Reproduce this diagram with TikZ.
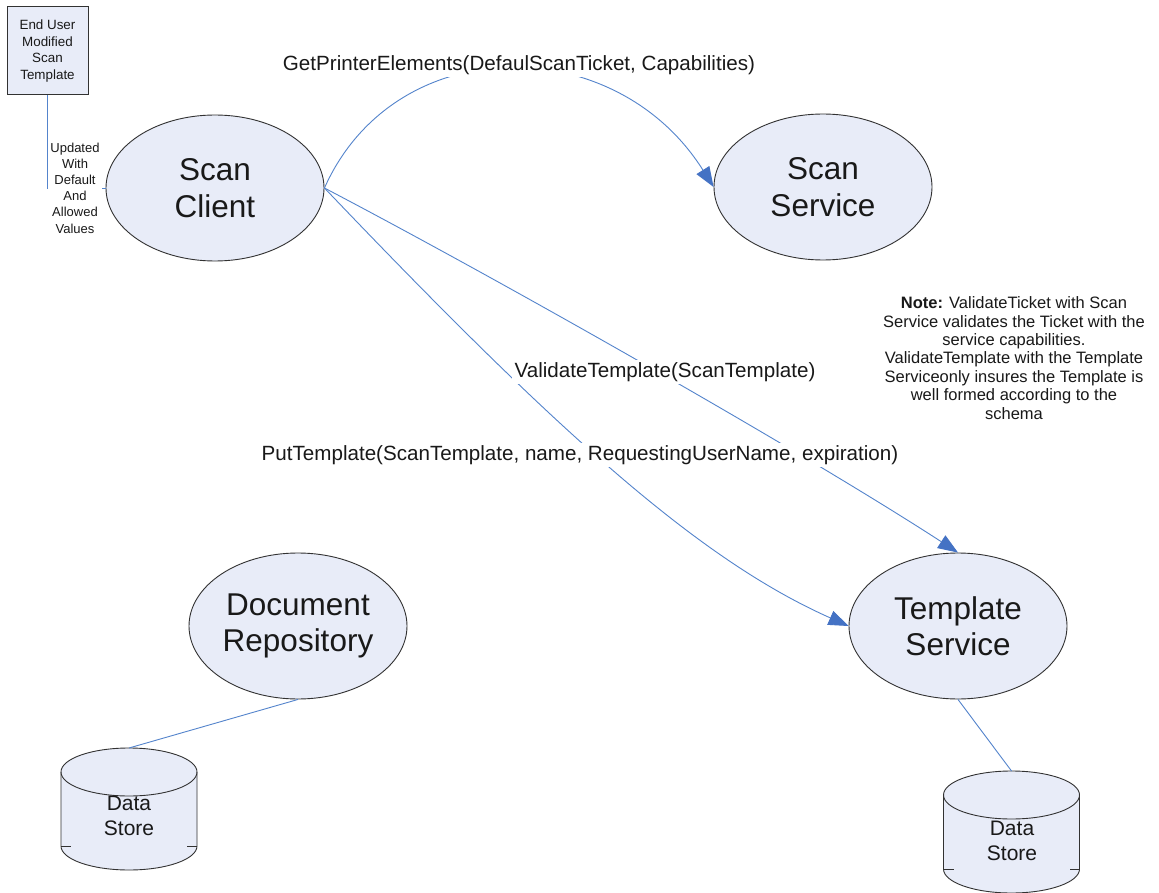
\documentclass[tikz,border=0pt]{standalone}
\usepackage{fontspec}
\setmainfont{Liberation Sans}
\usetikzlibrary{shapes.geometric,arrows.meta}
\definecolor{fillb}{RGB}{232,236,248}
\definecolor{lineb}{RGB}{84,132,204}
\definecolor{headb}{RGB}{68,114,196}
\definecolor{edgeg}{RGB}{50,50,50}
\definecolor{txt}{RGB}{25,25,25}
\tikzset{
  proc/.style={ellipse, draw=edgeg, line width=0.9pt, fill=fillb, minimum width=218pt, minimum height=146pt, inner sep=0pt, align=center, text=txt, font=\fontsize{31.5}{36.5}\selectfont},
  conn/.style={draw=lineb, line width=0.9pt},
  arr/.style={conn, -{Triangle[length=20pt,width=15pt,fill=headb,color=headb]}},
  lbl/.style={fill=white, inner xsep=3pt, inner ysep=2.5pt, text=txt, font=\fontsize{20.6}{24}\selectfont},
  dsline/.style={draw=edgeg, line width=0.9pt},
  dstext/.style={align=center, text=txt, font=\fontsize{21}{25}\selectfont},
}
\begin{document}
\begin{tikzpicture}[x=1pt,y=-1pt]
\useasboundingbox (0,0) rectangle (1159,893);
\fill[white] (0,0) rectangle (1159,893);

% top-left template box
\node[draw=edgeg, line width=1pt, fill=fillb, minimum width=81pt, minimum height=88pt, inner sep=0pt, align=center, text=txt, font=\fontsize{13.4}{16.4}\selectfont] (eu) at (47.5,51) {End User\\Modified\\Scan\\Template};

% ellipses
\node[proc] (sc) at (215,188) {Scan\\Client};
\node[proc] (ss) at (823,187) {Scan\\Service};
\node[proc] (dr) at (298,626) {Document\\Repository};
\node[proc] (ts) at (958,626) {Template\\Service};

% data stores
\foreach \cx/\cy/\nm in {129/772/dsa, 1011.5/795/dsb}{
  \fill[fillb] (\cx-68,\cy) -- (\cx-68,\cy+74) arc[start angle=180,end angle=360,x radius=68pt,y radius=24pt] -- (\cx+68,\cy) arc[start angle=0,end angle=180,x radius=68pt,y radius=24pt] -- cycle;
  \draw[dsline] (\cx-68,\cy) -- (\cx-68,\cy+74) arc[start angle=180,end angle=360,x radius=68pt,y radius=24pt] -- (\cx+68,\cy);
  \draw[dsline] (\cx,\cy) ellipse[x radius=68pt,y radius=24pt];
  \draw[dsline] (\cx-68,\cy+74) -- (\cx-58,\cy+74);
  \draw[dsline] (\cx+68,\cy+74) -- (\cx+58,\cy+74);
  \coordinate (\nm top) at (\cx,\cy-24);
}
\node[dstext] (dsatext) at (129,816) {Data\\Store};
\node[dstext] (dsbtext) at (1012,841) {Data\\Store};

% connectors
\draw[conn] (eu.south) |- (sc.west);
\node[fill=white, inner xsep=2pt, inner ysep=1pt, align=center, text=txt, font=\fontsize{13}{16.2}\selectfont] (updlbl) at (75,188) {Updated\\With\\Default\\And\\Allowed\\Values};

\draw[arr] (sc.east) .. controls (395,30) and (615,30) .. (ss.west);
\draw[arr] (sc.east) .. controls (500,280) and (800,450) .. (ts.north);
\draw[arr] (sc.east) .. controls (560,435) and (700,560) .. (ts.west);
\draw[conn] (dr.south) -- (dsatop);
\draw[conn] (ts.south) -- (dsbtop);

\node[lbl] (getlbl) at (519,65) {GetPrinterElements(DefaulScanTicket, Capabilities)};
\node[lbl] (vallbl) at (665,372) {ValidateTemplate(ScanTemplate)};
\node[lbl] (putlbl) at (580,455) {PutTemplate(ScanTemplate, name, RequestingUserName, expiration)};

% note
\node[align=center, text=txt, font=\fontsize{16.5}{18.4}\selectfont] (note) at (1014,358) {\textbf{Note:} ValidateTicket with Scan\\Service validates the Ticket with the\\service capabilities.\\ValidateTemplate with the Template\\Serviceonly insures the Template is\\well formed according to the\\schema};
\end{tikzpicture}
\end{document}
